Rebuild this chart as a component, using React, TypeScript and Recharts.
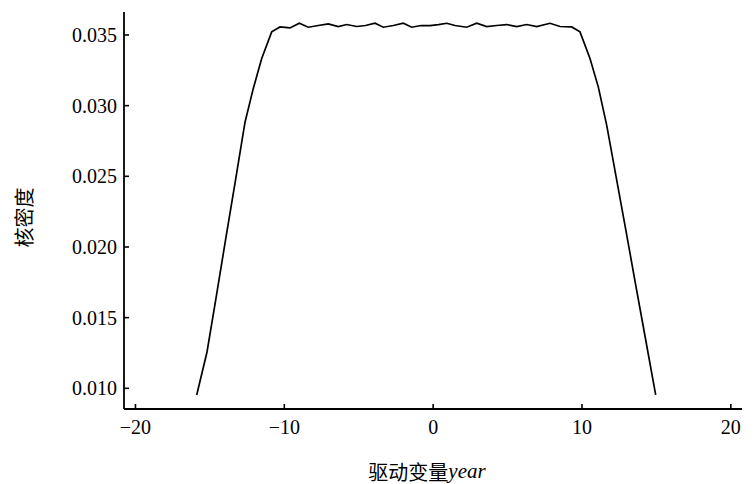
// 核密度曲线（驱动变量 year）

import { LineChart, Line, XAxis, YAxis } from 'recharts';

const X_VALUES = [
  -15.885, -15.193, -14.555, -13.917, -13.278, -12.64, -12.083, -11.518, -10.847, -10.289,
  -9.617, -8.992, -8.388, -7.716, -7.044, -6.372, -5.808, -5.136, -4.545, -3.907,
  -3.349, -2.677, -2.005, -1.441, -0.816, -0.212, 0.359, 0.91, 1.468, 2.254,
  2.926, 3.598, 4.269, 4.941, 5.613, 6.285, 6.957, 7.85, 8.522, 9.308,
  9.866, 10.537, 11.095, 11.659, 12.284, 12.922, 13.561, 14.232, 14.951,
];
const DENSITY = [
  0.00953, 0.01257, 0.0166, 0.0207, 0.02473, 0.02883, 0.03122, 0.03334, 0.03522, 0.03557,
  0.0355, 0.03583, 0.03555, 0.03567, 0.03578, 0.0356, 0.03574, 0.0356, 0.03567, 0.03583,
  0.03555, 0.03567, 0.03583, 0.03555, 0.03567, 0.03567, 0.03573, 0.03583, 0.03567, 0.03555,
  0.03583, 0.0356, 0.03567, 0.03574, 0.0356, 0.03574, 0.0356, 0.03583, 0.0356, 0.03557,
  0.03522, 0.03334, 0.03133, 0.02862, 0.02501, 0.02134, 0.01759, 0.0137, 0.00953,
];
const X_TICKS = [-20, -10, 0, 10, 20];
const Y_TICKS = [0.01, 0.015, 0.02, 0.025, 0.03, 0.035];

const data = X_VALUES.map((x, i) => ({ x, y: DENSITY[i] }));

const FONT = '"Liberation Serif", "Times New Roman", "Noto Sans CJK SC", serif';
const CJK = '"Noto Sans CJK SC", "Liberation Serif", serif';

const fmtX = (v: number) => (v < 0 ? '\u2212' + Math.abs(v) : String(v));

export default function App() {
  return (
    <div style={{ position: 'absolute', left: 0, top: 0, background: '#fff' }}>
      <LineChart
        width={755}
        height={484}
        data={data}
        margin={{ top: 12, right: 13, left: 0, bottom: 0 }}
      >
        <XAxis
          dataKey="x"
          type="number"
          domain={[-20.77, 20.75]}
          ticks={X_TICKS}
          allowDataOverflow
          height={75}
          tickSize={-5}
          tickMargin={16}
          tickFormatter={fmtX}
          axisLine={{ stroke: '#000', strokeWidth: 1.8 }}
          tickLine={{ stroke: '#000', strokeWidth: 1.6 }}
          tick={{ fill: '#000', fontSize: 20, fontFamily: FONT }}
          label={(props: any) => {
            const vb = props.viewBox || { x: 124, width: 618, y: 409 };
            return (
              <text
                x={vb.x + vb.width / 2 - 6}
                y={vb.y + 62}
                textAnchor="middle"
                dominantBaseline="central"
                fontSize={20}
                fill="#000"
                fontFamily={CJK}
              >
                驱动变量
                <tspan fontFamily={FONT} fontStyle="italic" fontSize={21}>year</tspan>
              </text>
            );
          }}
        />
        <YAxis
          type="number"
          domain={[0.008536, 0.036627]}
          ticks={Y_TICKS}
          allowDataOverflow
          width={124}
          tickSize={-5}
          tickMargin={12}
          tickFormatter={(v: number) => v.toFixed(3)}
          axisLine={{ stroke: '#000', strokeWidth: 1.8 }}
          tickLine={{ stroke: '#000', strokeWidth: 1.6 }}
          tick={{ fill: '#000', fontSize: 20, fontFamily: FONT }}
          label={(props: any) => {
            const vb = props.viewBox || { x: 0, y: 12, height: 397 };
            const cx = 23;
            const cy = vb.y + vb.height / 2 + 7;
            return (
              <text
                x={cx}
                y={cy}
                textAnchor="middle"
                dominantBaseline="central"
                fontSize={20}
                fill="#000"
                fontFamily={CJK}
                transform={`rotate(-90, ${cx}, ${cy})`}
              >
                核密度
              </text>
            );
          }}
        />
        <Line
          type="linear"
          dataKey="y"
          stroke="#000"
          strokeWidth={1.7}
          dot={false}
          activeDot={false}
          isAnimationActive={false}
        />
      </LineChart>
    </div>
  );
}
